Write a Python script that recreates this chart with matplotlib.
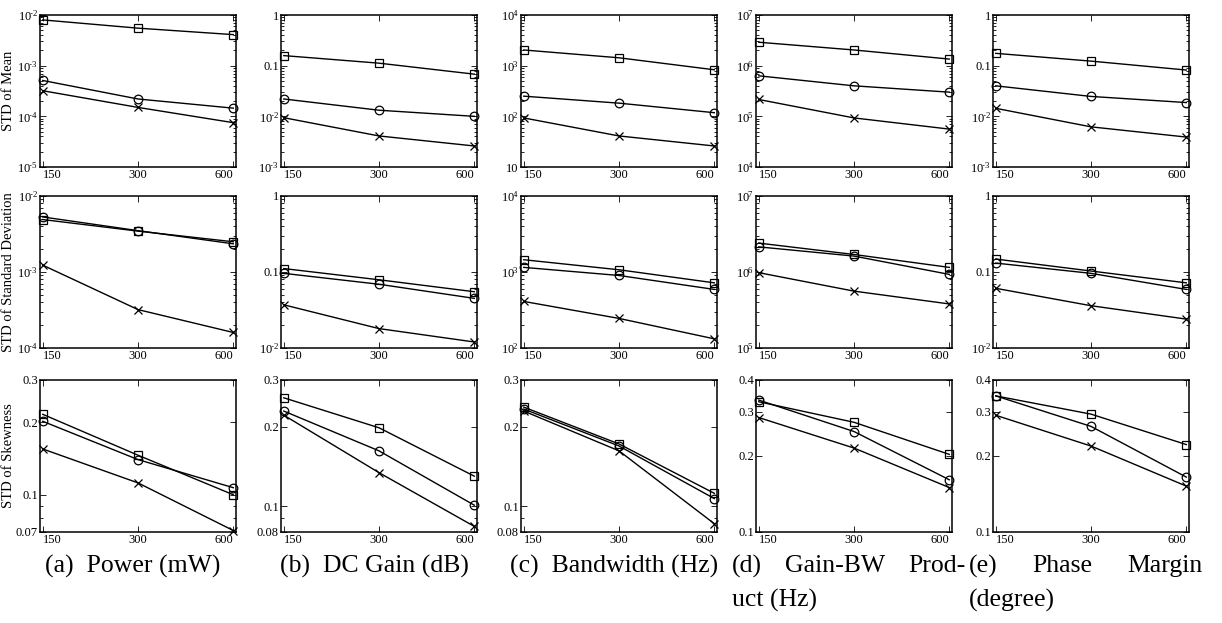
import matplotlib
matplotlib.use("Agg")
import matplotlib.pyplot as plt
from matplotlib.ticker import FixedLocator, NullLocator, LogLocator, FixedFormatter

plt.rcParams['font.family'] = ['Liberation Serif', 'DejaVu Serif']
plt.rcParams['mathtext.fontset'] = 'custom'
plt.rcParams['mathtext.rm'] = 'Liberation Serif'
plt.rcParams['mathtext.it'] = 'Liberation Serif:italic'

# Sample sizes on the x axis
sizes = [150, 300, 600]
size_labels = ['150', '300', '600']

# Row 1: STD of mean (square, circle, cross series) for each metric
mean_square = {
    'a': [8.0e-3, 5.5e-3, 4.1e-3],
    'b': [0.158, 0.112, 0.068],
    'c': [2040, 1430, 830],
    'd': [2.9e6, 2.04e6, 1.35e6],
    'e': [0.175, 0.123, 0.082],
}
mean_circle = {
    'a': [5.1e-4, 2.2e-4, 1.45e-4],
    'b': [0.022, 0.0132, 0.010],
    'c': [250, 182, 118],
    'd': [6.3e5, 4.0e5, 3.0e5],
    'e': [0.040, 0.0247, 0.0187],
}
mean_cross = {
    'a': [3.2e-4, 1.5e-4, 7.5e-5],
    'b': [0.0094, 0.0041, 0.0026],
    'c': [93, 41, 26],
    'd': [2.15e5, 9.3e4, 5.6e4],
    'e': [0.0144, 0.0062, 0.0039],
}

# Row 2: STD of standard deviation
std_square = {
    'a': [4.9e-3, 3.45e-3, 2.5e-3],
    'b': [0.111, 0.079, 0.055],
    'c': [1450, 1070, 720],
    'd': [2.4e6, 1.7e6, 1.15e6],
    'e': [0.148, 0.103, 0.072],
}
std_circle = {
    'a': [5.3e-3, 3.5e-3, 2.35e-3],
    'b': [0.096, 0.069, 0.045],
    'c': [1150, 900, 590],
    'd': [2.14e6, 1.62e6, 9.3e5],
    'e': [0.131, 0.096, 0.059],
}
std_cross = {
    'a': [1.23e-3, 3.2e-4, 1.6e-4],
    'b': [0.037, 0.018, 0.012],
    'c': [410, 245, 132],
    'd': [9.8e5, 5.6e5, 3.8e5],
    'e': [0.061, 0.036, 0.024],
}

# Row 3: STD of skewness
skew_square = {
    'a': [0.216, 0.146, 0.100],
    'b': [0.257, 0.198, 0.130],
    'c': [0.237, 0.172, 0.112],
    'd': [0.328, 0.272, 0.203],
    'e': [0.346, 0.293, 0.222],
}
skew_circle = {
    'a': [0.202, 0.140, 0.107],
    'b': [0.229, 0.162, 0.101],
    'c': [0.233, 0.169, 0.107],
    'd': [0.333, 0.250, 0.161],
    'e': [0.346, 0.262, 0.165],
}
skew_cross = {
    'a': [0.155, 0.112, 0.071],
    'b': [0.221, 0.134, 0.084],
    'c': [0.229, 0.162, 0.086],
    'd': [0.284, 0.215, 0.150],
    'e': [0.290, 0.219, 0.152],
}

# Y ranges per panel (decade exponents for rows 1-2, explicit ticks for row 3)
mean_decades = {'a': (-5, -2), 'b': (-3, 0), 'c': (1, 4), 'd': (4, 7), 'e': (-3, 0)}
std_decades = {'a': (-4, -2), 'b': (-2, 0), 'c': (2, 4), 'd': (5, 7), 'e': (-2, 0)}
skew_ticks = {
    'a': [0.07, 0.1, 0.2, 0.3],
    'b': [0.08, 0.1, 0.2, 0.3],
    'c': [0.08, 0.1, 0.2, 0.3],
    'd': [0.1, 0.2, 0.3, 0.4],
    'e': [0.1, 0.2, 0.3, 0.4],
}
skew_tick_labels = {
    'a': ['0.07', '0.1', '0.2', '0.3'],
    'b': ['0.08', '0.1', '0.2', '0.3'],
    'c': ['0.08', '0.1', '0.2', '0.3'],
    'd': ['0.1', '0.2', '0.3', '0.4'],
    'e': ['0.1', '0.2', '0.3', '0.4'],
}

row_labels = ['STD of Mean', 'STD of Standard Deviation', 'STD of Skewness']
panels = ['a', 'b', 'c', 'd', 'e']
captions = {
    'a': ['(a)', 'Power (mW)'],
    'b': ['(b)', 'DC Gain (dB)'],
    'c': ['(c)', 'Bandwidth (Hz)'],
}
justified = {
    'd': (['(d)', 'Gain-BW', 'Prod-'], 'uct (Hz)'),
    'e': (['(e)', 'Phase', 'Margin'], '(degree)'),
}

W, H = 1222, 623
fig = plt.figure(figsize=(W / 100, H / 100), dpi=100)

col_left = [40, 281, 521, 756, 993]
ax_w = 196
row_top = [15, 196, 380]
ax_h = 152


def decade_label(e):
    if e == 0:
        return '1'
    if e == -1:
        return '0.1'
    if e == 1:
        return '10'
    exp = r'\text{-}%d' % (-e) if e < 0 else '%d' % e
    return r'$\mathregular{10^{\!%s}}$' % exp


def style_axis(ax):
    ax.set_xscale('log')
    ax.set_xlim(147, 612)
    ax.xaxis.set_major_locator(FixedLocator(sizes))
    ax.xaxis.set_minor_locator(NullLocator())
    ax.set_xticklabels(size_labels)
    for lab, ha in zip(ax.get_xticklabels(), ['left', 'center', 'right']):
        lab.set_horizontalalignment(ha)
    ax.tick_params(which='both', direction='in', top=True, right=True,
                   labelsize=9, width=0.6, pad=1.5)
    ax.tick_params(which='major', length=4)
    ax.tick_params(which='minor', length=2.2)
    for sp in ax.spines.values():
        sp.set_linewidth(1.1)


series_rows = [
    (mean_square, mean_circle, mean_cross),
    (std_square, std_circle, std_cross),
    (skew_square, skew_circle, skew_cross),
]
markers = ['s', 'o', 'x']

for r in range(3):
    for c, key in enumerate(panels):
        left = col_left[c] / W
        bottom = 1 - (row_top[r] + ax_h) / H
        ax = fig.add_axes([left, bottom, ax_w / W, ax_h / H])
        ax.set_yscale('log')
        for data, m in zip(series_rows[r], markers):
            ax.plot(sizes, data[key], color='black', lw=1.0, marker=m,
                    markersize=6 if m != 'o' else 6.2, fillstyle='none',
                    markeredgewidth=0.9, clip_on=False, zorder=3)
        style_axis(ax)
        if r < 2:
            lo, hi = (mean_decades if r == 0 else std_decades)[key]
            ax.set_ylim(10.0 ** lo, 10.0 ** hi)
            ticks = [10.0 ** e for e in range(lo, hi + 1)]
            ax.yaxis.set_major_locator(FixedLocator(ticks))
            ax.yaxis.set_major_formatter(
                FixedFormatter([decade_label(e) for e in range(lo, hi + 1)]))
            ax.yaxis.set_minor_locator(LogLocator(base=10, subs=range(2, 10), numticks=50))
        else:
            t = skew_ticks[key]
            ax.set_ylim(t[0], t[-1])
            ax.yaxis.set_major_locator(FixedLocator(t))
            ax.yaxis.set_major_formatter(FixedFormatter(skew_tick_labels[key]))
            ax.yaxis.set_minor_locator(LogLocator(base=10, subs=range(2, 10), numticks=50))
        ax.yaxis.set_minor_formatter(FixedFormatter([]))
        if c == 0:
            ax.set_ylabel(row_labels[r], fontsize=10.5)
            ax.yaxis.set_label_coords(-0.13, 0.5)

# Captions under each column
cap_size = 18.5
line1_y = 1 - 566 / H
line2_y = 1 - 600 / H
renderer = fig.canvas.get_renderer()
for c, key in enumerate(panels):
    cx = col_left[c] + ax_w / 2 - 5
    if key in captions:
        fig.text(cx / W, line1_y, captions[key][0] + '  ' + captions[key][1],
                 ha='center', va='center', fontsize=cap_size)
    else:
        words, second = justified[key]
        box_l = cx - 117
        box_r = cx + 117
        texts = [fig.text(0, line1_y, w, ha='left', va='center', fontsize=cap_size)
                 for w in words]
        widths = [t.get_window_extent(renderer).width for t in texts]
        gap = (box_r - box_l - sum(widths)) / (len(words) - 1)
        x = box_l
        for t, w in zip(texts, widths):
            t.set_x(x / W)
            x += w + gap
        fig.text(box_l / W, line2_y, second, ha='left', va='center', fontsize=cap_size)

fig.savefig('out.png', dpi=100)
